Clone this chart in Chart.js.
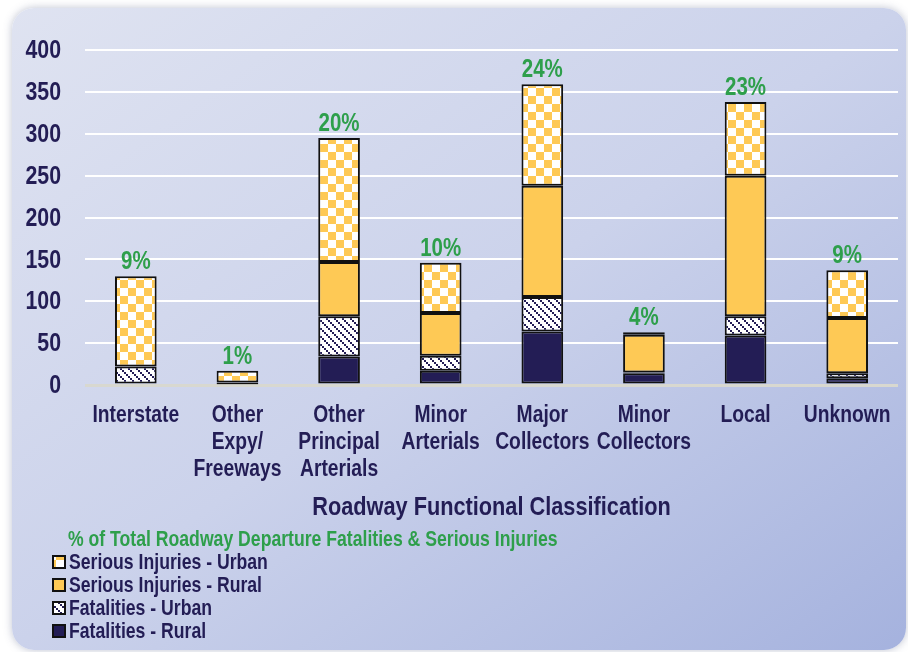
<!DOCTYPE html>
<html>
<head>
<meta charset="utf-8">
<script src="https://cdn.jsdelivr.net/npm/chart.js@4.4.0/dist/chart.umd.min.js"></script>
<style>
html, body { margin:0; padding:0; background:#fff; width:908px; height:652px; overflow:hidden; }
#panel { position:absolute; left:12px; top:8px; width:894px; height:642px; border-radius:22px;
  background:linear-gradient(to bottom right, #dfe3f1 0%, #cbd2eb 50%, #a5b2de 100%);
  box-shadow:0 0 8px rgba(70,80,120,0.35); }
#wrap { position:absolute; left:0; top:0; width:908px; height:652px; }
</style>
</head>
<body>
<div id="panel"></div>
<div id="wrap"><canvas id="chart"></canvas></div>
<script>
// data
const categories = [
  "Interstate", ["Other", "Expy/", "Freeways"], ["Other", "Principal", "Arterials"],
  ["Minor", "Arterials"], ["Major", "Collectors"], ["Minor", "Collectors"], "Local", "Unknown"
];
const fatalRural = [0, 1, 34, 17, 64, 14, 59, 8];
const fatalUrban = [22, 0, 48, 18, 41, 1, 23, 6];
const injRural   = [0, 2, 65, 51, 133, 45, 168, 66];
const injUrban   = [108, 14, 148, 60, 121, 3, 88, 57];
const pctLabels  = ["9%", "1%", "20%", "10%", "24%", "4%", "23%", "9%"];
const yTicks     = [0, 50, 100, 150, 200, 250, 300, 350, 400];
const xTitle = "Roadway Functional Classification";
const legendTitle = "% of Total Roadway Departure Fatalities & Serious Injuries";

const FONT = "'Liberation Sans', Arial, sans-serif";
const SQ = 0.82; // horizontal squeeze, no narrow face installed
const NAVY = "#231d55";
const YELLOW = "#fec955";
const GREEN = "#2e9f4b";

// fill patterns
function checker() {
  const t = document.createElement("canvas");
  t.width = 16; t.height = 16;
  const c = t.getContext("2d");
  c.fillStyle = "#fff"; c.fillRect(0, 0, 16, 16);
  c.fillStyle = YELLOW;
  c.fillRect(0, 0, 8, 8); c.fillRect(8, 8, 8, 8);
  return c.createPattern(t, "repeat");
}
function hatch() {
  const t = document.createElement("canvas");
  t.width = 8; t.height = 8;
  const c = t.getContext("2d");
  c.fillStyle = "#fff"; c.fillRect(0, 0, 8, 8);
  c.fillStyle = NAVY;
  for (let i = 0; i < 8; i += 2) c.fillRect(i, i, 2, 2);
  return c.createPattern(t, "repeat");
}

function narrow(ctx, text, x, y, align) {
  ctx.save();
  ctx.translate(x, y);
  ctx.scale(SQ, 1);
  ctx.textAlign = align;
  ctx.fillText(text, 0, 0);
  ctx.restore();
}

const pctPlugin = {
  id: "pctLabels",
  afterDatasetsDraw(chart) {
    const ctx = chart.ctx;
    const meta = chart.getDatasetMeta(3);
    ctx.save();
    ctx.font = "bold 25px " + FONT;
    ctx.fillStyle = GREEN;
    ctx.textBaseline = "alphabetic";
    meta.data.forEach((el, i) => {
      narrow(ctx, pctLabels[i], el.x, el.y - 7, "center");
    });
    ctx.restore();
  }
};

const textPlugin = {
  id: "texts",
  afterDraw(chart) {
    const ctx = chart.ctx;
    const area = chart.chartArea;
    const sx = chart.scales.x, sy = chart.scales.y;
    ctx.save();
    ctx.textBaseline = "middle";
    ctx.fillStyle = NAVY;
    // y tick labels
    ctx.font = "bold 26px " + FONT;
    yTicks.forEach(v => narrow(ctx, String(v), 61, sy.getPixelForValue(v) + 1, "right"));
    // category labels
    ctx.font = "bold 23.5px " + FONT;
    categories.forEach((c, i) => {
      const lines = Array.isArray(c) ? c : [c];
      const x = sx.getPixelForTick(i);
      lines.forEach((l, j) => narrow(ctx, l, x, 416 + j * 27, "center"));
    });
    // axis title
    ctx.font = "bold 26.5px " + FONT;
    narrow(ctx, xTitle, (area.left + area.right) / 2, 508, "center");
    // legend title
    ctx.font = "bold 21.5px " + FONT;
    ctx.fillStyle = GREEN;
    narrow(ctx, legendTitle, 68, 540, "left");
    // legend items, top of stack first
    ctx.font = "bold 21.5px " + FONT;
    const ds = chart.data.datasets;
    for (let k = 0; k < ds.length; k++) {
      const d = ds[ds.length - 1 - k];
      const y = 562 + k * 23;
      ctx.fillStyle = d.backgroundColor;
      ctx.fillRect(53, y - 6, 12, 12);
      ctx.strokeStyle = "#111";
      ctx.lineWidth = 2;
      ctx.strokeRect(53, y - 6, 12, 12);
      ctx.fillStyle = NAVY;
      narrow(ctx, d.label, 69, y + 1, "left");
    }
    ctx.restore();
  }
};

const barStyle = { borderColor: "#111", borderWidth: 2, borderSkipped: false, barPercentage: 0.41, categoryPercentage: 1 };

new Chart(document.getElementById("chart"), {
  type: "bar",
  data: {
    labels: categories,
    datasets: [
      { label: "Fatalities - Rural", data: fatalRural, backgroundColor: NAVY, ...barStyle },
      { label: "Fatalities - Urban", data: fatalUrban, backgroundColor: hatch(), ...barStyle },
      { label: "Serious Injuries - Rural", data: injRural, backgroundColor: YELLOW, ...barStyle },
      { label: "Serious Injuries - Urban", data: injUrban, backgroundColor: checker(), ...barStyle }
    ]
  },
  options: {
    responsive: true,
    maintainAspectRatio: false,
    animation: false,
    layout: { padding: { top: 50, right: 10, bottom: 167, left: 0 } },
    plugins: { legend: { display: false }, tooltip: { enabled: false } },
    scales: {
      x: {
        stacked: true,
        grid: { display: false },
        border: { display: false },
        ticks: { display: false },
        afterFit: s => { s.height = 100; }
      },
      y: {
        stacked: true,
        min: 0, max: 400,
        afterFit: s => { s.width = 85; },
        afterBuildTicks: s => { s.ticks = yTicks.map(v => ({ value: v })); },
        border: { display: false },
        ticks: { display: false },
        grid: {
          drawTicks: false,
          color: c => (c.tick && c.tick.value === 0) ? "#d8d8d0" : "#ffffff",
          lineWidth: c => (c.tick && c.tick.value === 0) ? 3 : 2
        }
      }
    }
  },
  plugins: [pctPlugin, textPlugin]
});
</script>
</body>
</html>
